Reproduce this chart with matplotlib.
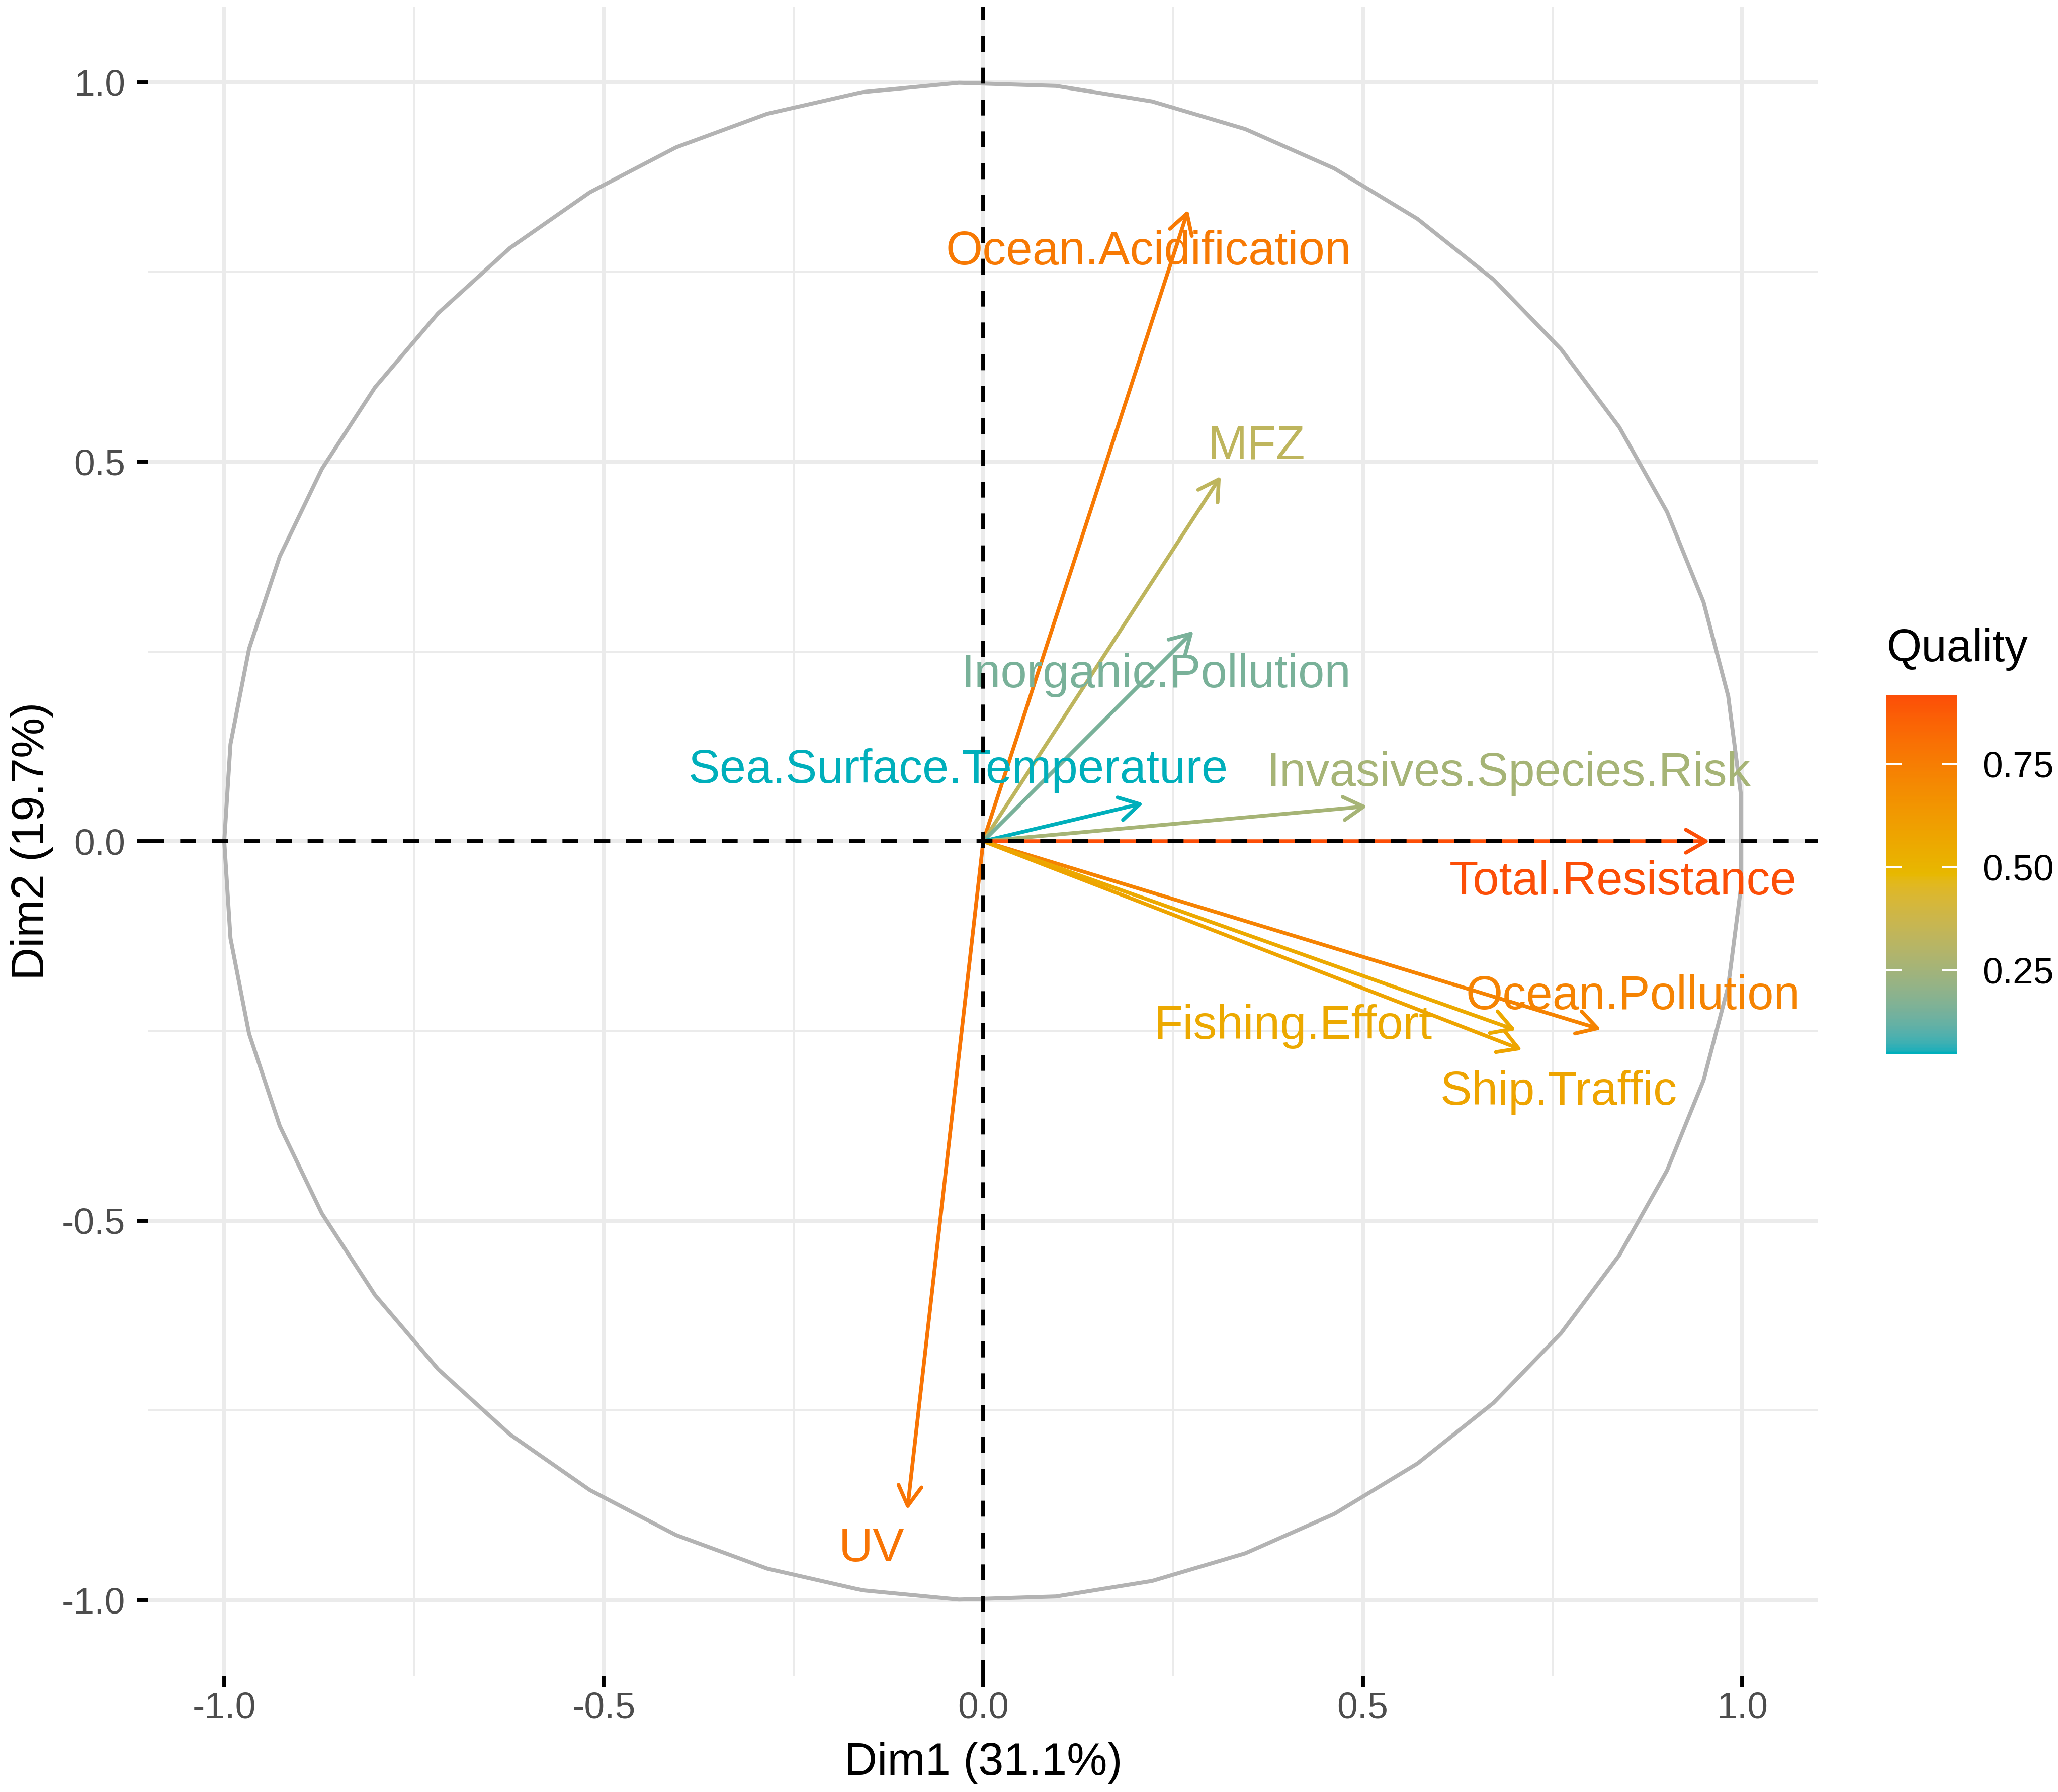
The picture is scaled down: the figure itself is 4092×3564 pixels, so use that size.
import numpy as np
import matplotlib
matplotlib.use("Agg")
import matplotlib.pyplot as plt
from matplotlib.colors import ListedColormap, Normalize
from matplotlib.patches import FancyArrowPatch, ArrowStyle

plt.rcParams['font.family'] = ['Liberation Sans', 'DejaVu Sans']

# variable coordinates on Dim1 / Dim2
variables = ["Ocean.Acidification", "MFZ", "Inorganic.Pollution", "Sea.Surface.Temperature",
             "Invasives.Species.Risk", "Total.Resistance", "Ocean.Pollution",
             "Fishing.Effort", "Ship.Traffic", "UV"]
dim1 = [0.270, 0.313, 0.277, 0.211, 0.506, 0.957, 0.814, 0.702, 0.710, -0.100]
dim2 = [0.832, 0.481, 0.277, 0.050, 0.046, 0.000, -0.248, -0.249, -0.275, -0.881]

# label positions (as placed in the picture)
label_x = [0.218, 0.360, 0.228, -0.033, 0.692, 0.843, 0.856, 0.408, 0.758, -0.147]
label_y = [0.776, 0.520, 0.219, 0.093, 0.089, -0.054, -0.205, -0.244, -0.331, -0.933]

major_ticks = [-1.0, -0.5, 0.0, 0.5, 1.0]
major_labels = ["-1.0", "-0.5", "0.0", "0.5", "1.0"]
minor_ticks = [-0.75, -0.25, 0.25, 0.75]
legend_ticks = [0.25, 0.50, 0.75]
legend_labels = ["0.25", "0.50", "0.75"]
gradient = ["#00AFBB", "#E7B800", "#FC4E07"]

x = np.array(dim1)
y = np.array(dim2)
quality = x ** 2 + y ** 2  # cos2 on the two axes


# ggplot interpolates gradients in CIE Lab
WHITE = np.array([0.95047, 1.0, 1.08883])
M = np.array([[0.4124564, 0.3575761, 0.1804375],
              [0.2126729, 0.7151522, 0.0721750],
              [0.0193339, 0.1191920, 0.9503041]])
MINV = np.linalg.inv(M)


def hex_to_lab(h):
    rgb = np.array([int(h[i:i + 2], 16) for i in (1, 3, 5)]) / 255.0
    lin = np.where(rgb <= 0.04045, rgb / 12.92, ((rgb + 0.055) / 1.055) ** 2.4)
    xyz = M @ lin / WHITE
    f = np.where(xyz > (6 / 29) ** 3, np.cbrt(xyz), xyz / (3 * (6 / 29) ** 2) + 4 / 29)
    return np.array([116 * f[1] - 16, 500 * (f[0] - f[1]), 200 * (f[1] - f[2])])


def lab_to_rgb(lab):
    L, a, b = lab
    fy = (L + 16) / 116
    f = np.array([fy + a / 500, fy, fy - b / 200])
    xyz = np.where(f > 6 / 29, f ** 3, 3 * (6 / 29) ** 2 * (f - 4 / 29)) * WHITE
    lin = MINV @ xyz
    lin = np.clip(lin, 0, None)
    rgb = np.where(lin <= 0.0031308, 12.92 * lin, 1.055 * lin ** (1 / 2.4) - 0.055)
    return np.clip(rgb, 0, 1)


labs = [hex_to_lab(c) for c in gradient]
cols = []
for t in np.linspace(0, 1, 256):
    if t <= 0.5:
        u = t / 0.5
        lab = labs[0] * (1 - u) + labs[1] * u
    else:
        u = (t - 0.5) / 0.5
        lab = labs[1] * (1 - u) + labs[2] * u
    cols.append(lab_to_rgb(lab))
cmap = ListedColormap(cols)
norm = Normalize(vmin=quality.min(), vmax=quality.max())

W, H = 4092, 3564
fig = plt.figure(figsize=(W / 300, H / 300), dpi=300)
ax = fig.add_axes([295 / W, 1 - 3333 / H, 3320 / W, 3320 / H])
ax.set_xlim(-1.1, 1.1)
ax.set_ylim(-1.1, 1.1)
ax.set_aspect('equal')
for s in ax.spines.values():
    s.set_visible(False)

ax.set_xticks(major_ticks)
ax.set_xticklabels(major_labels)
ax.set_yticks(major_ticks)
ax.set_yticklabels(major_labels)
ax.set_xticks(minor_ticks, minor=True)
ax.set_yticks(minor_ticks, minor=True)
ax.tick_params(which='major', length=5.5, width=1.9, color='black',
               labelsize=17.6, labelcolor='#4D4D4D')
ax.tick_params(axis='x', which='major', pad=2)
ax.tick_params(axis='y', which='major', pad=5.5)
ax.tick_params(which='minor', length=0)
ax.grid(which='major', color='#EBEBEB', lw=1.9)
ax.grid(which='minor', color='#EBEBEB', lw=0.95)
ax.set_axisbelow(True)

# correlation circle
theta = np.linspace(-np.pi, np.pi, 50)
ax.plot(np.cos(theta), np.sin(theta), color='#B3B3B3', lw=1.9, zorder=1)

head = ArrowStyle('->', head_length=9.5, head_width=5.5)
for i in range(len(variables)):
    c = cmap(norm(quality[i]))
    arr = FancyArrowPatch((0, 0), (x[i], y[i]), arrowstyle=head, mutation_scale=1,
                          shrinkA=0, shrinkB=0, lw=1.8, color=c, zorder=2)
    ax.add_patch(arr)
    ax.text(label_x[i], label_y[i], variables[i], color=c, fontsize=22.6,
            ha='center', va='center', zorder=3)

ax.axhline(0, color='black', lw=1.9, ls=(0, (4, 4)), zorder=4)
ax.axvline(0, color='black', lw=1.9, ls=(0, (4, 4)), zorder=4)

fig.text(1955 / W, 1 - 3530 / H, "Dim1 (31.1%)", fontsize=21.7, ha='center', va='baseline')
fig.text(87 / W, 1 - 1673 / H, "Dim2 (19.7%)", fontsize=21.7, ha='center', va='baseline',
         rotation=90, rotation_mode='anchor')

# colour bar legend
cax = fig.add_axes([3751 / W, 1 - 2096 / H, 140 / W, 713 / H])
cb = fig.colorbar(plt.cm.ScalarMappable(norm=norm, cmap=cmap), cax=cax)
cb.outline.set_visible(False)
cb.set_ticks(legend_ticks)
cb.set_ticklabels(legend_labels)
cax.tick_params(length=0, pad=12, labelsize=17.6, labelcolor='black')
for v in legend_ticks:
    cax.axhline(v, xmin=0, xmax=0.2, color='white', lw=1.2)
    cax.axhline(v, xmin=0.8, xmax=1, color='white', lw=1.2)
fig.text(3751 / W, 1 - 1292 / H, "Quality", fontsize=21.7, ha='left', va='center')

fig.savefig("out.png", dpi=300)
